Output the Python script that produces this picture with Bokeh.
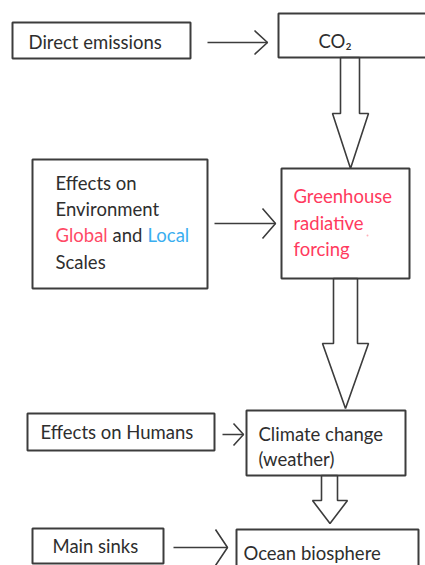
from bokeh.plotting import figure
from bokeh.models import Range1d
from bokeh.core.properties import value
from bokeh.embed import file_html
from bokeh.resources import INLINE

# ---- diagram content ----
# boxes: left, top, right, bottom (page pixel coordinates)
box_left = [12, 278, 32, 281, 27, 246, 32, 236]
box_top = [22, 13, 159, 168, 413, 410, 528, 529]
box_right = [190, 440, 207, 409, 214, 405, 163, 418]
box_bottom = [58, 57, 288, 278, 450, 475, 563, 600]

# plain text labels
label_text = ["Direct emissions", "CO₂", "Effects on", "Environment", "Scales",
              "Effects on Humans", "Climate change", "(weather)", "Main sinks", "Ocean biosphere"]
label_x = [28, 318, 55, 55, 55, 40, 258, 258, 52, 243]
label_y = [41, 40, 182, 208, 261, 431, 433, 458, 545, 552]

# coloured text
color_text = ["Global", "and", "Local", "Greenhouse", "radiative", "forcing"]
color_x = [55, 112, 147, 293, 293, 293]
color_y = [234, 234, 234, 195, 222, 248]
color_col = ["#ff4a66", "#2e2e2e", "#3aaef0", "#ff3a5e", "#ff3a5e", "#ff3a5e"]

# thin arrows: start x, end x, y, head back, head half height
thin_x0 = [207, 214, 222, 173]
thin_x1 = [267, 275, 243, 227]
thin_y = [42, 223, 434, 547]
thin_back = [13, 13, 10, 12]
thin_half = [12, 15, 11, 18]

# block arrows: shaft left, shaft right, top, shoulder y, head left, head right, tip y
blk_sl = [340, 333, 321]
blk_sr = [359, 357, 337]
blk_top = [57, 278, 475]
blk_sh = [113, 343, 500]
blk_hl = [332, 322, 312]
blk_hr = [368, 368, 347]
blk_tip = [168, 408, 523]

W, H = 425, 565
p = figure(width=W, height=H, output_backend="svg", toolbar_location=None,
           x_range=Range1d(0, W), y_range=Range1d(H, 0),
           min_border=0, outline_line_color=None)
p.axis.visible = False
p.grid.visible = False
p.background_fill_color = "white"
p.border_fill_color = "white"

LINE = "#3c3c3c"
FONT = value("Lato")
FS = "18.5px"

# block arrows
xs, ys = [], []
for sl, sr, t, sh, hl, hr, tip in zip(blk_sl, blk_sr, blk_top, blk_sh, blk_hl, blk_hr, blk_tip):
    xs.append([sl, sr, sr, hr, (hl + hr) / 2, hl, sl])
    ys.append([t, t, sh, sh, tip, sh, sh])
p.patches(xs, ys, fill_color="white", line_color=LINE, line_width=1.6)

# boxes
p.quad(left=box_left, right=box_right, top=box_top, bottom=box_bottom,
       fill_color="white", fill_alpha=0.0, line_color=LINE, line_width=2)

# thin arrows
mx, my = [], []
for x0, x1, y, b, h in zip(thin_x0, thin_x1, thin_y, thin_back, thin_half):
    mx.append([x0, x1])
    my.append([y, y])
    mx.append([x1 - b, x1, x1 - b])
    my.append([y - h, y, y + h])
p.multi_line(mx, my, line_color=LINE, line_width=1.6)

# stray dot
p.scatter([367], [235], size=2, color="#ffb0b8", line_color=None)

p.text(label_x, label_y, text=label_text, text_font=FONT, text_font_size=FS,
       text_baseline="middle", text_align="left", text_color="#2e2e2e")
p.text(color_x, color_y, text=color_text, text_font=FONT, text_font_size=FS,
       text_baseline="middle", text_align="left", text_color=color_col)

open("out.html", "w").write(file_html(p, INLINE))
